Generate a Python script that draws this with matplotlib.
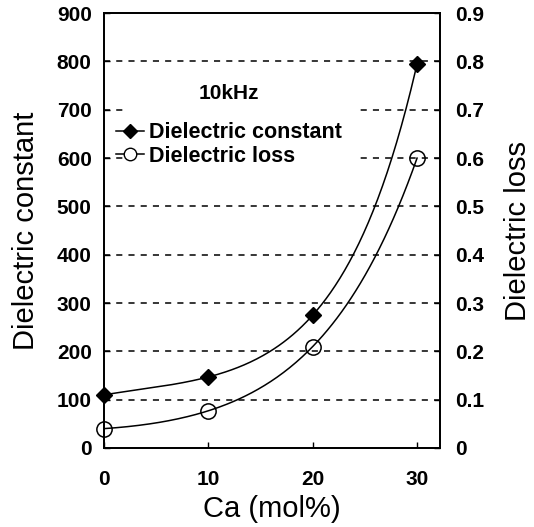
import numpy as np
import matplotlib.pyplot as plt
from matplotlib.lines import Line2D
from matplotlib.patches import Rectangle

# data
ca = [0, 10, 20, 30]
diel_const = [110, 147, 275, 795]
diel_loss = [0.04, 0.077, 0.21, 0.60]

x_ticks = [0, 10, 20, 30]
left_ticks = [0, 100, 200, 300, 400, 500, 600, 700, 800, 900]
right_ticks = [0, 0.1, 0.2, 0.3, 0.4, 0.5, 0.6, 0.7, 0.8, 0.9]
right_labels = ['0', '0.1', '0.2', '0.3', '0.4', '0.5', '0.6', '0.7', '0.8', '0.9']

plt.rcParams['font.family'] = ['Liberation Sans', 'DejaVu Sans']

fig = plt.figure(figsize=(5.34, 5.27), dpi=100)
ax = fig.add_axes([0.195, 0.150, 0.629, 0.825])
ax2 = ax.twinx()

# smooth curves through the points (cubic in sqrt space, passes through all 4 points)
xs = np.linspace(ca[0], ca[-1], 200)
c1 = np.polyfit(ca, np.sqrt(diel_const), 3)
c2 = np.polyfit(ca, np.sqrt(diel_loss), 3)

ax.plot(xs, np.polyval(c1, xs) ** 2, color='black', lw=1.1, zorder=3)
ax.plot(ca, diel_const, ls='none', marker='D', ms=8, mfc='black', mec='black', zorder=4, clip_on=False)
ax2.plot(xs, np.polyval(c2, xs) ** 2, color='black', lw=1.1, zorder=3)
ax2.plot(ca, diel_loss, ls='none', marker='o', ms=11, mfc='none', mec='black', mew=1.1, zorder=4, clip_on=False)

ax.set_xlim(0, 32.2)
ax.set_ylim(0, 900)
ax2.set_ylim(0, 0.9)

for y in left_ticks[1:-1]:
    ax.axhline(y, color='black', ls=(0, (4, 4)), lw=1.1, zorder=1)

# white box behind the legend hides the gridlines there
ax.add_patch(Rectangle((0.065, 0.64), 0.69, 0.21, transform=ax.transAxes,
                       facecolor='white', edgecolor='none', zorder=2))

ax.set_xticks(x_ticks)
ax.set_yticks(left_ticks)
ax2.set_yticks(right_ticks)
ax2.set_yticklabels(right_labels)

for a in (ax, ax2):
    a.tick_params(direction='in', length=4, width=1, labelsize=15)
    for lab in a.get_xticklabels() + a.get_yticklabels():
        lab.set_fontweight('bold')
    for s in a.spines.values():
        s.set_linewidth(1.3)
ax.tick_params(axis='x', pad=16)
ax.tick_params(axis='y', pad=9)
ax2.tick_params(axis='y', pad=11)

ax.set_xlabel('Ca (mol%)', fontsize=21, labelpad=4)
ax.set_ylabel('Dielectric constant', fontsize=21, labelpad=12)
ax2.set_ylabel('Dielectric loss', fontsize=21, labelpad=14)

ax2.text(0.37, 0.815, '10kHz', transform=ax.transAxes, ha='center', va='center',
         fontsize=15, fontweight='bold')

handles = [
    Line2D([], [], color='black', lw=1.1, marker='D', ms=7, mfc='black'),
    Line2D([], [], color='black', lw=1.1, marker='o', ms=9, mfc='white'),
]
ax2.legend(handles, ['Dielectric constant', 'Dielectric loss'],
           loc='center left', bbox_to_anchor=(0.035, 0.698),
           frameon=False, borderpad=0, borderaxespad=0,
           handlelength=1.3, handletextpad=0.25, labelspacing=0.1,
           prop={'size': 15.5, 'weight': 'bold'})

fig.savefig('out.png', dpi=100)
